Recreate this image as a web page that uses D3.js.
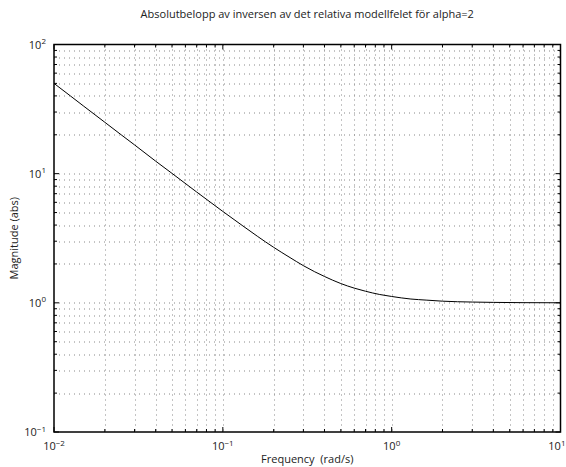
<!DOCTYPE html>
<html>
<head>
<meta charset="utf-8">
<script src="https://cdn.jsdelivr.net/npm/d3@7"></script>
<style>
  body { margin: 0; background: #fff; }
  svg { display: block; font-family: 'Open Sans', 'DejaVu Sans', sans-serif; }
</style>
</head>
<body>
<svg id="chart"></svg>
<script>
// Values
var titleText = 'Absolutbelopp av inversen av det relativa modellfelet för alpha=2';
var xLabelText = 'Frequency  (rad/s)';
var yLabelText = 'Magnitude (abs)';
var xDomain = [0.01, 10];
var yDomain = [0.1, 100];
var xTickExp = [-2, -1, 0, 1];
var yTickExp = [-1, 0, 1, 2];

var freq = [0.01, 0.0125, 0.015, 0.02, 0.025, 0.03, 0.04, 0.05, 0.07, 0.1, 0.13, 0.16,
            0.2, 0.25, 0.3, 0.35, 0.4, 0.5, 0.6, 0.7, 0.85, 1, 1.3, 1.6, 2, 3, 4, 6, 10];
var mag = [50.0, 40.0, 33.3, 25.0, 20.0, 16.7, 12.5, 10.05, 7.21, 5.10, 3.98, 3.28,
           2.69, 2.24, 1.94, 1.74, 1.60, 1.41, 1.30, 1.23, 1.16, 1.12, 1.07, 1.05, 1.03, 1.014, 1.008, 1.003, 1.001];

var svgWidth = 566;
var svgHeight = 467;
var padding = {t: 44.5, r: 5.5, b: 35, l: 54};
var chartWidth = svgWidth - padding.l - padding.r;
var chartHeight = svgHeight - padding.t - padding.b;

var svg = d3.select('#chart')
    .attr('width', svgWidth)
    .attr('height', svgHeight);

var chartG = svg.append('g')
    .attr('transform', 'translate(' + [padding.l, padding.t] + ')');

var xScale = d3.scaleLog().domain(xDomain).range([0, chartWidth]);
var yScale = d3.scaleLog().domain(yDomain).range([chartHeight, 0]);

// minor + major tick values
function logTicks(domain) {
    var out = [];
    var lo = Math.round(Math.log10(domain[0])), hi = Math.round(Math.log10(domain[1]));
    for (var e = lo; e < hi; e++) {
        for (var m = 1; m < 10; m++) out.push(m * Math.pow(10, e));
    }
    out.push(Math.pow(10, hi));
    return out;
}
var xAll = logTicks(xDomain);
var yAll = logTicks(yDomain);
function isMajor(v) { return Math.abs(Math.log10(v) - Math.round(Math.log10(v))) < 1e-9; }

// grid
chartG.append('g').selectAll('line')
    .data(xAll.filter(function(v) { return v > xDomain[0] && v < xDomain[1]; }))
    .enter().append('line')
    .attr('x1', function(d) { return Math.round(xScale(d)) + 0.5; })
    .attr('x2', function(d) { return Math.round(xScale(d)) + 0.5; })
    .attr('y1', 0).attr('y2', chartHeight)
    .attr('stroke', '#888')
    .attr('stroke-width', 1)
    .attr('stroke-dasharray', '1,4');

chartG.append('g').selectAll('line')
    .data(yAll.filter(function(v) { return v > yDomain[0] && v < yDomain[1]; }))
    .enter().append('line')
    .attr('y1', function(d) { return Math.round(yScale(d)) + 0.5; })
    .attr('y2', function(d) { return Math.round(yScale(d)) + 0.5; })
    .attr('x1', 0).attr('x2', chartWidth)
    .attr('stroke', '#888')
    .attr('stroke-width', 1)
    .attr('stroke-dasharray', '1,4');

// inward ticks on all four sides
var tickG = chartG.append('g').attr('stroke', '#000').attr('stroke-width', 1);
xAll.forEach(function(v) {
    var len = isMajor(v) ? 5 : 3;
    var x = xScale(v);
    tickG.append('line').attr('x1', x).attr('x2', x).attr('y1', chartHeight).attr('y2', chartHeight - len);
    tickG.append('line').attr('x1', x).attr('x2', x).attr('y1', 0).attr('y2', len);
});
yAll.forEach(function(v) {
    var len = isMajor(v) ? 5 : 3;
    var y = yScale(v);
    tickG.append('line').attr('y1', y).attr('y2', y).attr('x1', 0).attr('x2', len);
    tickG.append('line').attr('y1', y).attr('y2', y).attr('x1', chartWidth).attr('x2', chartWidth - len);
});

// frame
chartG.append('rect')
    .attr('x', 0).attr('y', 0)
    .attr('width', chartWidth).attr('height', chartHeight)
    .attr('fill', 'none')
    .attr('stroke', '#000')
    .attr('stroke-width', 1.5);

// curve
var line = d3.line()
    .x(function(d, i) { return xScale(freq[i]); })
    .y(function(d) { return yScale(d); })
    .curve(d3.curveMonotoneX);

chartG.append('path')
    .datum(mag)
    .attr('d', line)
    .attr('fill', 'none')
    .attr('stroke', '#000')
    .attr('stroke-width', 1);

// tick labels
function powLabel(sel, e) {
    sel.append('tspan').text('10');
    sel.append('tspan').attr('dy', '-0.55em').attr('font-size', '8px').text(e < 0 ? '\u2212' + (-e) : e);
}
xTickExp.forEach(function(e) {
    var t = chartG.append('text')
        .attr('x', xScale(Math.pow(10, e)))
        .attr('y', chartHeight + 18)
        .attr('text-anchor', e === 1 ? 'end' : 'middle')
        .attr('font-size', '11px')
        .attr('fill', '#222');
    if (e === 1) t.attr('x', xScale(Math.pow(10, e)) + 5);
    powLabel(t, e);
});
yTickExp.forEach(function(e) {
    var t = chartG.append('text')
        .attr('x', -8)
        .attr('y', yScale(Math.pow(10, e)) + 4)
        .attr('text-anchor', 'end')
        .attr('font-size', '11px')
        .attr('fill', '#222');
    powLabel(t, e);
});

// axis labels + title
svg.append('text')
    .attr('x', padding.l + chartWidth / 2)
    .attr('y', 463)
    .attr('text-anchor', 'middle')
    .attr('font-size', '11px')
    .attr('fill', '#222')
    .attr('xml:space', 'preserve')
    .text(xLabelText);

svg.append('text')
    .attr('transform', 'rotate(-90)')
    .attr('x', -(padding.t + chartHeight / 2))
    .attr('y', 18)
    .attr('text-anchor', 'middle')
    .attr('font-size', '11px')
    .attr('fill', '#222')
    .text(yLabelText);

svg.append('text')
    .attr('x', padding.l + chartWidth / 2)
    .attr('y', 18)
    .attr('text-anchor', 'middle')
    .attr('font-size', '11px')
    .attr('fill', '#222')
    .text(titleText);
</script>
</body>
</html>
